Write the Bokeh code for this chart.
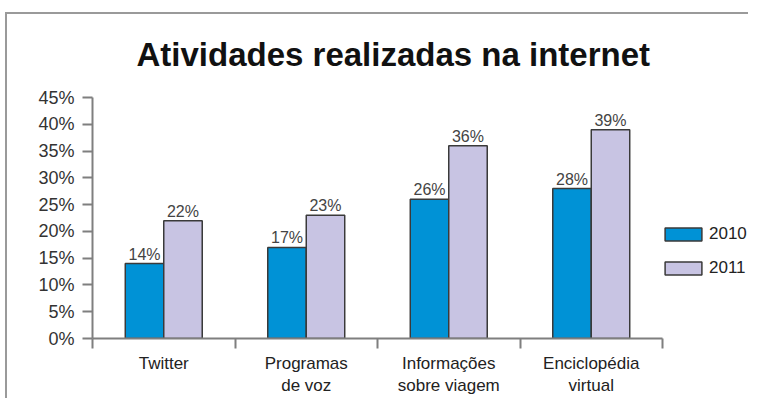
from bokeh.plotting import figure
from bokeh.models import (ColumnDataSource, Range1d, FixedTicker, Legend, LegendItem,
                          LabelSet)
from bokeh.core.properties import value
from bokeh.embed import file_html
from bokeh.resources import INLINE

categories = ["Twitter", "Programas\nde voz", "Informações\nsobre viagem", "Enciclopédia\nvirtual"]
series = ["2010", "2011"]
values_2010 = [14, 17, 26, 28]
values_2011 = [22, 23, 36, 39]
y_ticks = [0, 5, 10, 15, 20, 25, 30, 35, 40, 45]
y_tick_labels = ["0%", "5%", "10%", "15%", "20%", "25%", "30%", "35%", "40%", "45%"]

FONT = "Liberation Sans"
AXIS_COLOR = "#7f7f7f"
TEXT_COLOR = "#333333"
COLOR_2010 = "#0092d6"
COLOR_2011 = "#c8c4e3"
BORDER_COLOR = "#9a9a9a"

W, H = 748, 398
LEFT, TOP, BOTTOM = 92, 97, 56
AXIS_PX = 570  # pixel length of the category axis

n = len(categories)
centers = [i + 0.5 for i in range(n)]
bounds = [i for i in range(n + 1)]
bar_w = 0.27
x_end = n * (W - LEFT) / AXIS_PX

src10 = ColumnDataSource(dict(x=[c - bar_w / 2 for c in centers], top=values_2010,
                              label=[f"{v}%" for v in values_2010]))
src11 = ColumnDataSource(dict(x=[c + bar_w / 2 for c in centers], top=values_2011,
                              label=[f"{v}%" for v in values_2011]))

p = figure(width=W, height=H, x_range=Range1d(0, x_end), y_range=Range1d(0, 45),
           toolbar_location=None, output_backend="svg",
           min_border_left=LEFT, min_border_right=0, min_border_top=TOP,
           min_border_bottom=BOTTOM,
           border_fill_alpha=0, background_fill_alpha=0)

# thin grey frame around the whole chart (left and top edges visible)
p.styles = {
    "background": (f"linear-gradient({BORDER_COLOR},{BORDER_COLOR}) 5px 12px / 2px 100% no-repeat, "
                   f"linear-gradient({BORDER_COLOR},{BORDER_COLOR}) 5px 12px / 100% 2px no-repeat, "
                   "#ffffff"),
}

p.title.text = "Atividades realizadas na internet"
p.title.text_font = FONT
p.title.text_font_size = "33px"
p.title.text_font_style = "bold"
p.title.text_color = "#111111"
p.title.align = "left"
p.title.offset = 44
p.title.standoff = 50

p.xgrid.grid_line_color = None
p.ygrid.grid_line_color = None
p.outline_line_color = None

r10 = p.vbar(x="x", top="top", width=bar_w, bottom=0, source=src10,
             fill_color=COLOR_2010, line_color="#3a3a3a", line_width=1.5)
r11 = p.vbar(x="x", top="top", width=bar_w, bottom=0, source=src11,
             fill_color=COLOR_2011, line_color="#3a3a3a", line_width=1.5)

for s in (src10, src11):
    p.add_layout(LabelSet(x="x", y="top", text="label", source=s, text_align="center",
                          text_baseline="bottom", y_offset=1, text_font=value(FONT),
                          text_font_size="16px", text_color="#444444"))

# y axis
ya = p.yaxis[0]
ya.ticker = FixedTicker(ticks=y_ticks)
ya.major_label_overrides = dict(zip(y_ticks, y_tick_labels))
ya.minor_tick_line_color = None
ya.major_tick_in = 0
ya.major_tick_out = 10
ya.major_label_standoff = 8
ya.axis_line_color = AXIS_COLOR
ya.axis_line_width = 2
ya.major_tick_line_color = AXIS_COLOR
ya.major_tick_line_width = 2
ya.major_label_text_font = FONT
ya.major_label_text_font_size = "18px"
ya.major_label_text_color = TEXT_COLOR

# x axis, limited to the category span
xa = p.xaxis[0]
xa.bounds = (0, n)
xa.ticker = FixedTicker(ticks=centers, minor_ticks=bounds)
xa.major_label_overrides = dict(zip(centers, categories))
xa.major_tick_line_color = None
xa.major_tick_in = 0
xa.major_tick_out = 0
xa.minor_tick_in = 0
xa.minor_tick_out = 10
xa.minor_tick_line_color = AXIS_COLOR
xa.minor_tick_line_width = 2
xa.axis_line_color = AXIS_COLOR
xa.axis_line_width = 2
xa.major_label_standoff = 5
xa.major_label_text_font = FONT
xa.major_label_text_font_size = "17px"
xa.major_label_text_color = "#222222"

legend = Legend(items=[LegendItem(label=series[0], renderers=[r10]),
                       LegendItem(label=series[1], renderers=[r11])],
                location=(568, 60), glyph_width=46, glyph_height=16, label_height=20,
                spacing=14, padding=0, margin=0, label_standoff=3,
                border_line_color=None, background_fill_alpha=0,
                label_text_font=FONT, label_text_font_size="17px",
                label_text_color="#222222")
p.add_layout(legend, "center")

open("out.html", "w").write(file_html(p, INLINE))
